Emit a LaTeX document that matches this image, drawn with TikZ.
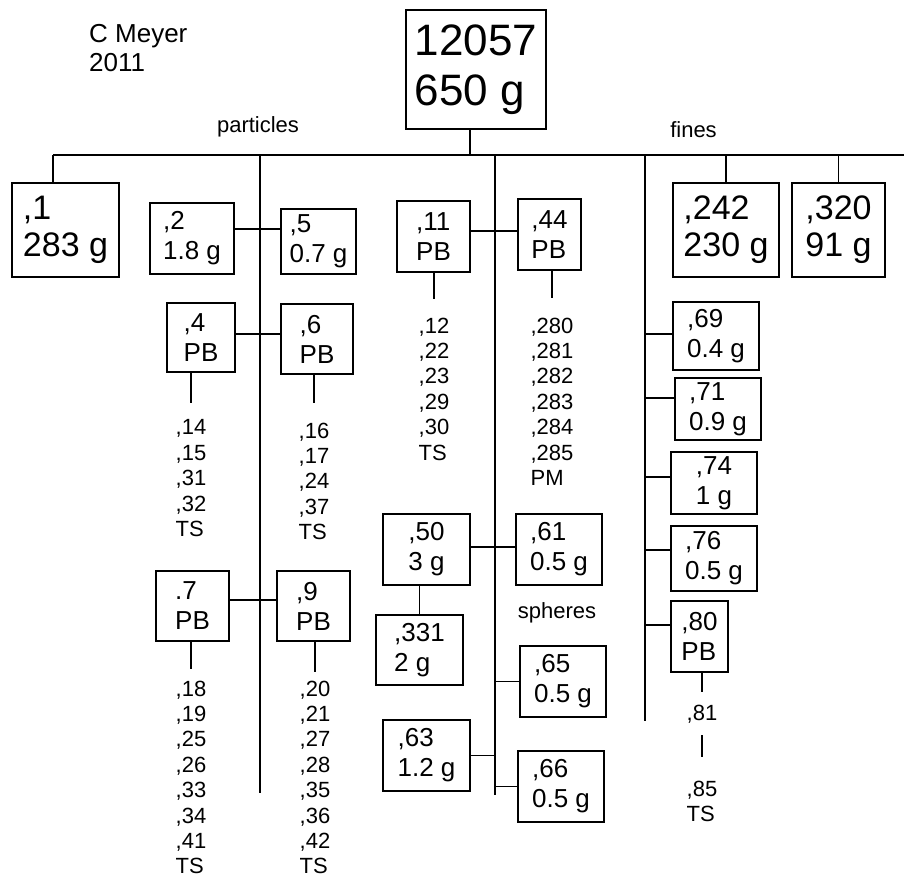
\documentclass[tikz,border=0pt]{standalone}
\usepackage{fontspec}
\setmainfont{Liberation Sans}
\newcommand{\fntHuge}{\fontsize{44}{50}\selectfont}
\newcommand{\fntBig}{\fontsize{34}{37}\selectfont}
\newcommand{\fntBox}{\fontsize{26}{30}\selectfont}
\newcommand{\fntList}{\fontsize{22}{25.4}\selectfont}
\newcommand{\fntNote}{\fontsize{26}{29}\selectfont}
\tikzset{
    sample/.style={
        rectangle, draw=black, line width=1.5pt, inner sep=0pt,
        align=left, font=\fntBox
    },
    sample_big/.style={sample, font=\fntBig},
    idlist/.style={inner sep=0pt, align=left, font=\fntList, anchor=north},
    branch/.style={draw=black, line width=1.4pt},
    stemline/.style={branch, shorten >=#1},
    group_lbl/.style={font=\fntList}
}
\begin{document}
\begin{tikzpicture}[x=1pt, y=-1pt]
    \useasboundingbox (0,0) rectangle (904,878);

    % Author and year
    \node[font=\fntNote, align=left, anchor=north west, inner sep=0pt] (author) at (89,24.5) {C Meyer\\2011};

    % Whole sample on top
    \node[sample, font=\fntHuge, minimum width=140pt, minimum height=119pt] (root) at (476,69.5) {12057\\650 g};

    % Distribution bar and the three trunks
    \coordinate (barL) at (53,155);
    \coordinate (barR) at (904,155);
    \coordinate (pTop) at (260,155);
    \coordinate (pBot) at (260,793);
    \coordinate (sTop) at (495,155);
    \coordinate (sBot) at (495,795);
    \coordinate (fTop) at (645,155);
    \coordinate (fBot) at (645,721);

    % Group labels
    \node[group_lbl] (particles) at (258,127) {particles};
    \node[group_lbl] (fines) at (693.5,129.5) {fines};
    \node[group_lbl] (spheres) at (557,612.5) {spheres};

    % Particles side
    \node[sample_big, minimum width=107pt, minimum height=94pt] (b1) at (65.5,230) {,1\\283 g};
    \node[sample, minimum width=84pt, minimum height=71pt] (b2) at (192,238.5) {,2\\1.8 g};
    \node[sample, minimum width=75pt, minimum height=65pt] (b5) at (318.5,241.5) {,5\\0.7 g};
    \node[sample, minimum width=68pt, minimum height=69pt] (b4) at (201,337.5) {,4\\PB};
    \node[sample, minimum width=72pt, minimum height=70pt] (b6) at (317,339) {,6\\PB};
    \node[sample, minimum width=73pt, minimum height=70pt] (b7) at (192.5,606) {.7\\PB};
    \node[sample, minimum width=73pt, minimum height=70pt] (b9) at (313.5,606) {,9\\PB};

    \node[idlist] (l4) at (191,419.5) {,14\\,15\\,31\\,32\\TS};
    \node[idlist] (l6) at (314,422.5) {,16\\,17\\,24\\,37\\TS};
    \node[idlist] (l7) at (191,680.5) {,18\\,19\\,25\\,26\\,33\\,34\\,41\\TS};
    \node[idlist] (l9) at (315,680.5) {,20\\,21\\,27\\,28\\,35\\,36\\,42\\TS};

    % Spheres side
    \node[sample, minimum width=73pt, minimum height=71pt] (b11) at (433.5,236.5) {,11\\PB};
    \node[sample, minimum width=63pt, minimum height=71pt] (b44) at (549.5,234.5) {,44\\PB};
    \node[sample, minimum width=87pt, minimum height=71pt] (b50) at (426.5,549.5) {,50\\3 g};
    \node[sample, minimum width=86pt, minimum height=71pt] (b61) at (559,549.5) {,61\\0.5 g};
    \node[sample, minimum width=87pt, minimum height=70pt] (b331) at (419.5,650) {,331\\2 g};
    \node[sample, minimum width=86pt, minimum height=71pt] (b65) at (563,681.5) {,65\\0.5 g};
    \node[sample, minimum width=87pt, minimum height=71pt] (b63) at (426.5,755.5) {,63\\1.2 g};
    \node[sample, minimum width=86pt, minimum height=71pt] (b66) at (561,786.5) {,66\\0.5 g};

    \node[idlist] (l11) at (434,317.5) {,12\\,22\\,23\\,29\\,30\\TS};
    \node[idlist] (l44) at (552,317.5) {,280\\,281\\,282\\,283\\,284\\,285\\PM};

    % Fines side
    \node[sample_big, minimum width=106pt, minimum height=94pt] (b242) at (726,230) {,242\\230 g};
    \node[sample_big, minimum width=93pt, minimum height=94pt] (b320) at (838.5,230) {,320\\91 g};
    \node[sample, minimum width=86pt, minimum height=68pt] (b69) at (716,336) {,69\\0.4 g};
    \node[sample, minimum width=86pt, minimum height=62pt] (b71) at (718,409) {,71\\0.9 g};
    \node[sample, minimum width=86pt, minimum height=62pt] (b74) at (714,483) {,74\\1 g};
    \node[sample, minimum width=86pt, minimum height=65pt] (b76) at (714,558.5) {,76\\0.5 g};
    \node[sample, minimum width=57pt, minimum height=71pt] (b80) at (699.5,636.5) {,80\\PB};

    \node[idlist] (l81) at (702,704.5) {,81};
    \node[idlist] (l85) at (702,780.5) {,85\\TS};

    % Bar and trunks
    \draw[branch] (barL) -- (barR);
    \draw[branch] ([xshift=-6pt]root.south) -- ([xshift=-6pt]root.south |- barL);
    \draw[branch] (pTop) -- (pBot);
    \draw[branch] (sTop) -- (sBot);
    \draw[branch] (fTop) -- (fBot);

    % Particles links
    \draw[branch] (barL) -- (barL |- b1.north);
    \draw[branch] ([yshift=9.5pt]b2.east) -- ([yshift=9.5pt]b2.east -| b5.west);
    \draw[branch] ([yshift=3.5pt]b4.east) -- ([yshift=3.5pt]b4.east -| b6.west);
    \draw[branch] ([yshift=6pt]b7.east) -- ([yshift=6pt]b7.east -| b9.west);
    \draw[stemline=16.5pt] (l4.north |- b4.south) -- (l4.north);
    \draw[stemline=19.5pt] (l6.north |- b6.south) -- (l6.north);
    \draw[stemline=11.5pt] (l7.north |- b7.south) -- (l7.north);
    \draw[stemline=8.5pt] (l9.north |- b9.south) -- (l9.north);

    % Spheres links
    \draw[branch] ([yshift=5.5pt]b11.east) -- ([yshift=5.5pt]b11.east -| b44.west);
    \draw[stemline=18.5pt] (l11.north |- b11.south) -- (l11.north);
    \draw[stemline=19.5pt] (l44.north |- b44.south) -- (l44.north);
    \draw[branch] ([yshift=2.5pt]b50.east) -- ([yshift=2.5pt]b50.east -| b61.west);
    \draw[branch] (b50.south -| b331.north) -- (b331.north);
    \draw[branch] (b65.west -| sTop) -- (b65.west);
    \draw[branch] (b63.east) -- (b63.east -| sTop);
    \draw[branch] (b66.west -| sTop) -- (b66.west);

    % Fines links
    \draw[branch] (b242.north |- barL) -- (b242.north);
    \draw[branch] (b320.north |- barL) -- (b320.north);
    \draw[branch] ([yshift=2pt]b69.west -| fTop) -- ([yshift=2pt]b69.west);
    \draw[branch] ([yshift=11pt]b71.west -| fTop) -- ([yshift=11pt]b71.west);
    \draw[branch] ([yshift=6pt]b74.west -| fTop) -- ([yshift=6pt]b74.west);
    \draw[branch] ([yshift=8.5pt]b76.west -| fTop) -- ([yshift=8.5pt]b76.west);
    \draw[branch] ([yshift=11.5pt]b80.west -| fTop) -- ([yshift=11.5pt]b80.west);
    \draw[stemline=12.5pt] (l81.north |- b80.south) -- (l81.north);
    \draw[branch, shorten <=12.4pt, shorten >=23.5pt] (l81.south) -- (l85.north);
\end{tikzpicture}
\end{document}
